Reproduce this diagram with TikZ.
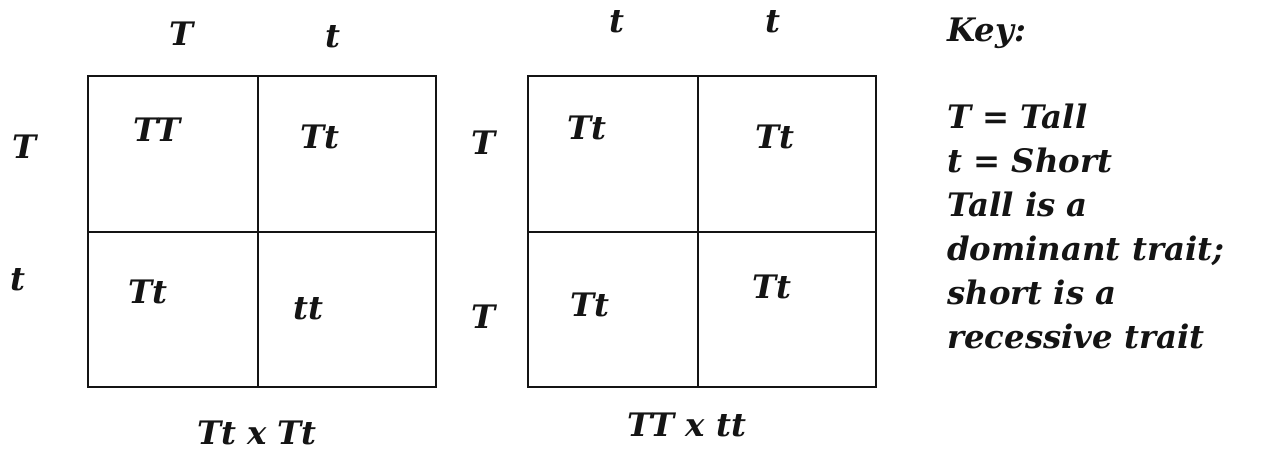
\documentclass[tikz,border=0pt]{standalone}
\usepackage{fontspec}
\setmainfont{DejaVu Serif}
\usetikzlibrary{positioning}
\definecolor{ink}{RGB}{20,20,20}
\tikzset{
    line cap=round,
    line join=round,
    gridline/.style={
        draw=ink,
        line width=1.4pt
    },
    allele/.style={
        font=\fontsize{23}{27}\selectfont\bfseries\itshape,
        text=ink,
        inner sep=0pt
    },
    geno/.style={
        allele
    },
    cross/.style={
        allele
    },
    keytext/.style={
        allele,
        anchor=base west,
        align=left
    }
}
\begin{document}
\begin{tikzpicture}[x=0.025cm, y=-0.025cm]
\useasboundingbox (0, 0) rectangle (1268, 455);

% Left square
\draw[gridline] (88, 76) rectangle (436, 387);
\draw[gridline] (258, 76) -- (258, 387);
\draw[gridline] (88, 232) -- (436, 232);
\node[allele] (lT1) at (182, 34) {T};
\node[allele] (lt1) at (333, 37) {t};
\node[allele] (lT2) at (25, 147) {T};
\node[allele] (lt2) at (18, 280) {t};
\node[geno] (lTT) at (157, 130) {TT};
\node[geno] (lTt1) at (320, 137) {Tt};
\node[geno] (lTt2) at (148, 292) {Tt};
\node[geno] (ltt) at (308, 309) {tt};
\node[cross] (lcross) at (257, 433) {Tt x Tt};

% Right square
\draw[gridline] (528, 76) rectangle (876, 387);
\draw[gridline] (698, 76) -- (698, 387);
\draw[gridline] (528, 232) -- (876, 232);
\node[allele] (rt1) at (617, 22) {t};
\node[allele] (rt2) at (773, 22) {t};
\node[allele] (rT1) at (484, 143) {T};
\node[allele] (rT2) at (484, 317) {T};
\node[geno] (rTt1) at (587, 128) {Tt};
\node[geno] (rTt2) at (775, 137) {Tt};
\node[geno] (rTt3) at (590, 305) {Tt};
\node[geno] (rTt4) at (772, 287) {Tt};
\node[cross] (rcross) at (687, 425) {TT x tt};

% Key
\node[keytext] (key) at (947, 41) {Key:};
\foreach \txt [count=\i] in {T = Tall, t = Short, Tall is a, dominant trait;, short is a, recessive trait} {
    \node[keytext] (key\i) at (947, {128 + 44*(\i-1)}) {\txt};
}
\end{tikzpicture}
\end{document}
